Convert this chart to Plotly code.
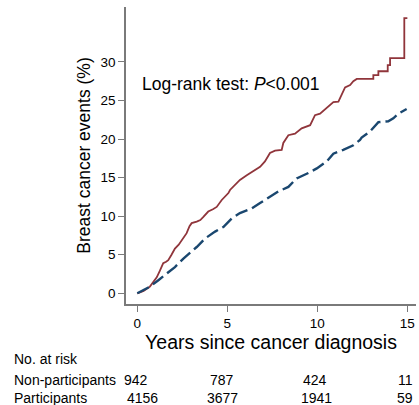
import plotly.graph_objects as go

# Cumulative breast cancer events (%)
nonpart_t = [0, 0.35, 0.7, 0.9, 1.08, 1.25, 1.44, 1.6, 1.72, 1.9, 2.09, 2.3, 2.47, 2.6, 2.74, 2.9, 3.02,
             3.3, 3.5, 3.67, 3.94, 4.2, 4.41, 4.69, 4.85, 5.06, 5.15, 5.4, 5.7, 6.08, 6.44, 6.82, 7.09,
             7.37, 7.65, 8.02, 8.11, 8.39, 8.76, 9.13, 9.6, 9.87, 10.15, 10.52, 10.89, 11.17, 11.36,
             11.54, 11.82, 12.0, 12.19, 13.11, 13.11, 13.39, 13.39, 13.91, 13.91, 14.04, 14.04,
             14.83, 14.83, 15.0]
nonpart_y = [0, 0.3, 0.86, 1.5, 2.07, 2.9, 3.9, 4.1, 4.3, 5.0, 5.8, 6.3, 6.9, 7.3, 7.8, 8.7, 9.1,
             9.3, 9.5, 9.9, 10.6, 10.9, 11.2, 12.1, 12.5, 13.0, 13.4, 14.0, 14.7, 15.3, 15.8, 16.4, 17.1,
             18.2, 18.5, 18.6, 19.5, 20.5, 20.7, 21.4, 21.8, 23.1, 23.3, 24.0, 24.8, 24.85, 25.7,
             26.7, 27.0, 27.5, 27.8, 27.8, 28.3, 28.3, 28.8, 28.8, 29.6, 29.6, 30.5,
             30.5, 35.7, 35.7]

part_t = [0, 0.35, 0.7, 1.17, 1.63, 2.09, 2.56, 3.02, 3.3, 3.76, 4.32, 4.78, 5.24, 5.7, 6.35, 6.82,
          7.37, 7.83, 8.39, 8.85, 9.5, 9.97, 10.52, 10.89, 11.44, 12.0, 12.37, 12.46, 12.93, 13.39,
          13.94, 14.22, 14.5, 14.96]
part_y = [0, 0.4, 0.86, 1.7, 2.6, 3.4, 4.5, 5.4, 6.0, 7.1, 8.0, 8.6, 9.7, 10.4, 11.0, 11.7,
          12.5, 13.2, 13.8, 14.9, 15.6, 16.2, 17.1, 18.1, 18.6, 19.2, 19.9, 20.2, 21.0, 22.2,
          22.3, 22.7, 23.3, 23.9]

x_ticks = [0, 5, 10, 15]
y_ticks = [0, 5, 10, 15, 20, 25, 30]

risk_groups = ["Non-participants", "Participants"]
risk_times = [0, 5, 10, 15]
risk_nonpart = [942, 787, 424, 11]
risk_part = [4156, 3677, 1941, 59]

RED = "#90353B"
BLUE = "#1A476F"
AX = "#7a7a7a"
FONT = "Liberation Sans, Arial, sans-serif"

fig = go.Figure()
fig.add_trace(go.Scatter(x=nonpart_t, y=nonpart_y, mode="lines", name="Non-participants",
                         line=dict(color=RED, width=1.8), showlegend=False))
fig.add_trace(go.Scatter(x=part_t, y=part_y, mode="lines", name="Participants",
                         line=dict(color=BLUE, width=2.4, dash="13px,5px"), showlegend=False))

fig.add_annotation(x=0.15, y=27.1, xref="x", yref="y", xanchor="left", yanchor="middle",
                   text="Log-rank test: <i>P</i>&lt;0.001", showarrow=False,
                   font=dict(size=17.5, color="black", family=FONT))

# Risk table
fig.add_annotation(x=-0.393, y=-0.185, xref="paper", yref="paper", xanchor="left", yanchor="middle",
                   text="No. at risk", showarrow=False, font=dict(size=14, color="black", family=FONT))
row_y = [-0.257, -0.316]
for gi, (g, vals) in enumerate(zip(risk_groups, [risk_nonpart, risk_part])):
    fig.add_annotation(x=-0.393, y=row_y[gi], xref="paper", yref="paper", xanchor="left",
                       yanchor="middle", text=g, showarrow=False,
                       font=dict(size=14, color="black", family=FONT))
    shifts = [[-1, -5, -2, -2], [5, -5, -1, -2]][gi]
    for t, v, s in zip(risk_times, vals, shifts):
        fig.add_annotation(x=t, y=row_y[gi], xref="x", yref="paper", xanchor="center",
                           yanchor="middle", text=str(v), showarrow=False, xshift=s,
                           font=dict(size=14, color="black", family=FONT))

fig.update_layout(
    width=419, height=405,
    margin=dict(l=126, r=3, t=7, b=101),
    paper_bgcolor="white", plot_bgcolor="white",
    font=dict(family=FONT, color="black"),
    xaxis=dict(range=[-0.628, 15.48], tickvals=x_ticks, showgrid=False, zeroline=False,
               showline=True, linecolor=AX, linewidth=1.5, ticks="outside", ticklen=6,
               tickcolor=AX, tickwidth=1.2, tickfont=dict(size=13.5, color="black"),
               title=dict(text="Years since cancer diagnosis", font=dict(size=19.5, color="black"),
                          standoff=0)),
    yaxis=dict(range=[-1.39, 37.13], tickvals=y_ticks, showgrid=False, zeroline=False,
               showline=True, linecolor=AX, linewidth=1.5, ticks="outside", ticklen=6,
               tickcolor=AX, tickwidth=1.2, tickfont=dict(size=13.5, color="black"),
               title=dict(text="Breast cancer events (%)", font=dict(size=17.5, color="black"),
                          standoff=5)),
)

fig.write_html("out.html", config={"displayModeBar": False},
               post_script="document.body.style.margin='0';document.body.style.overflow='hidden';")
